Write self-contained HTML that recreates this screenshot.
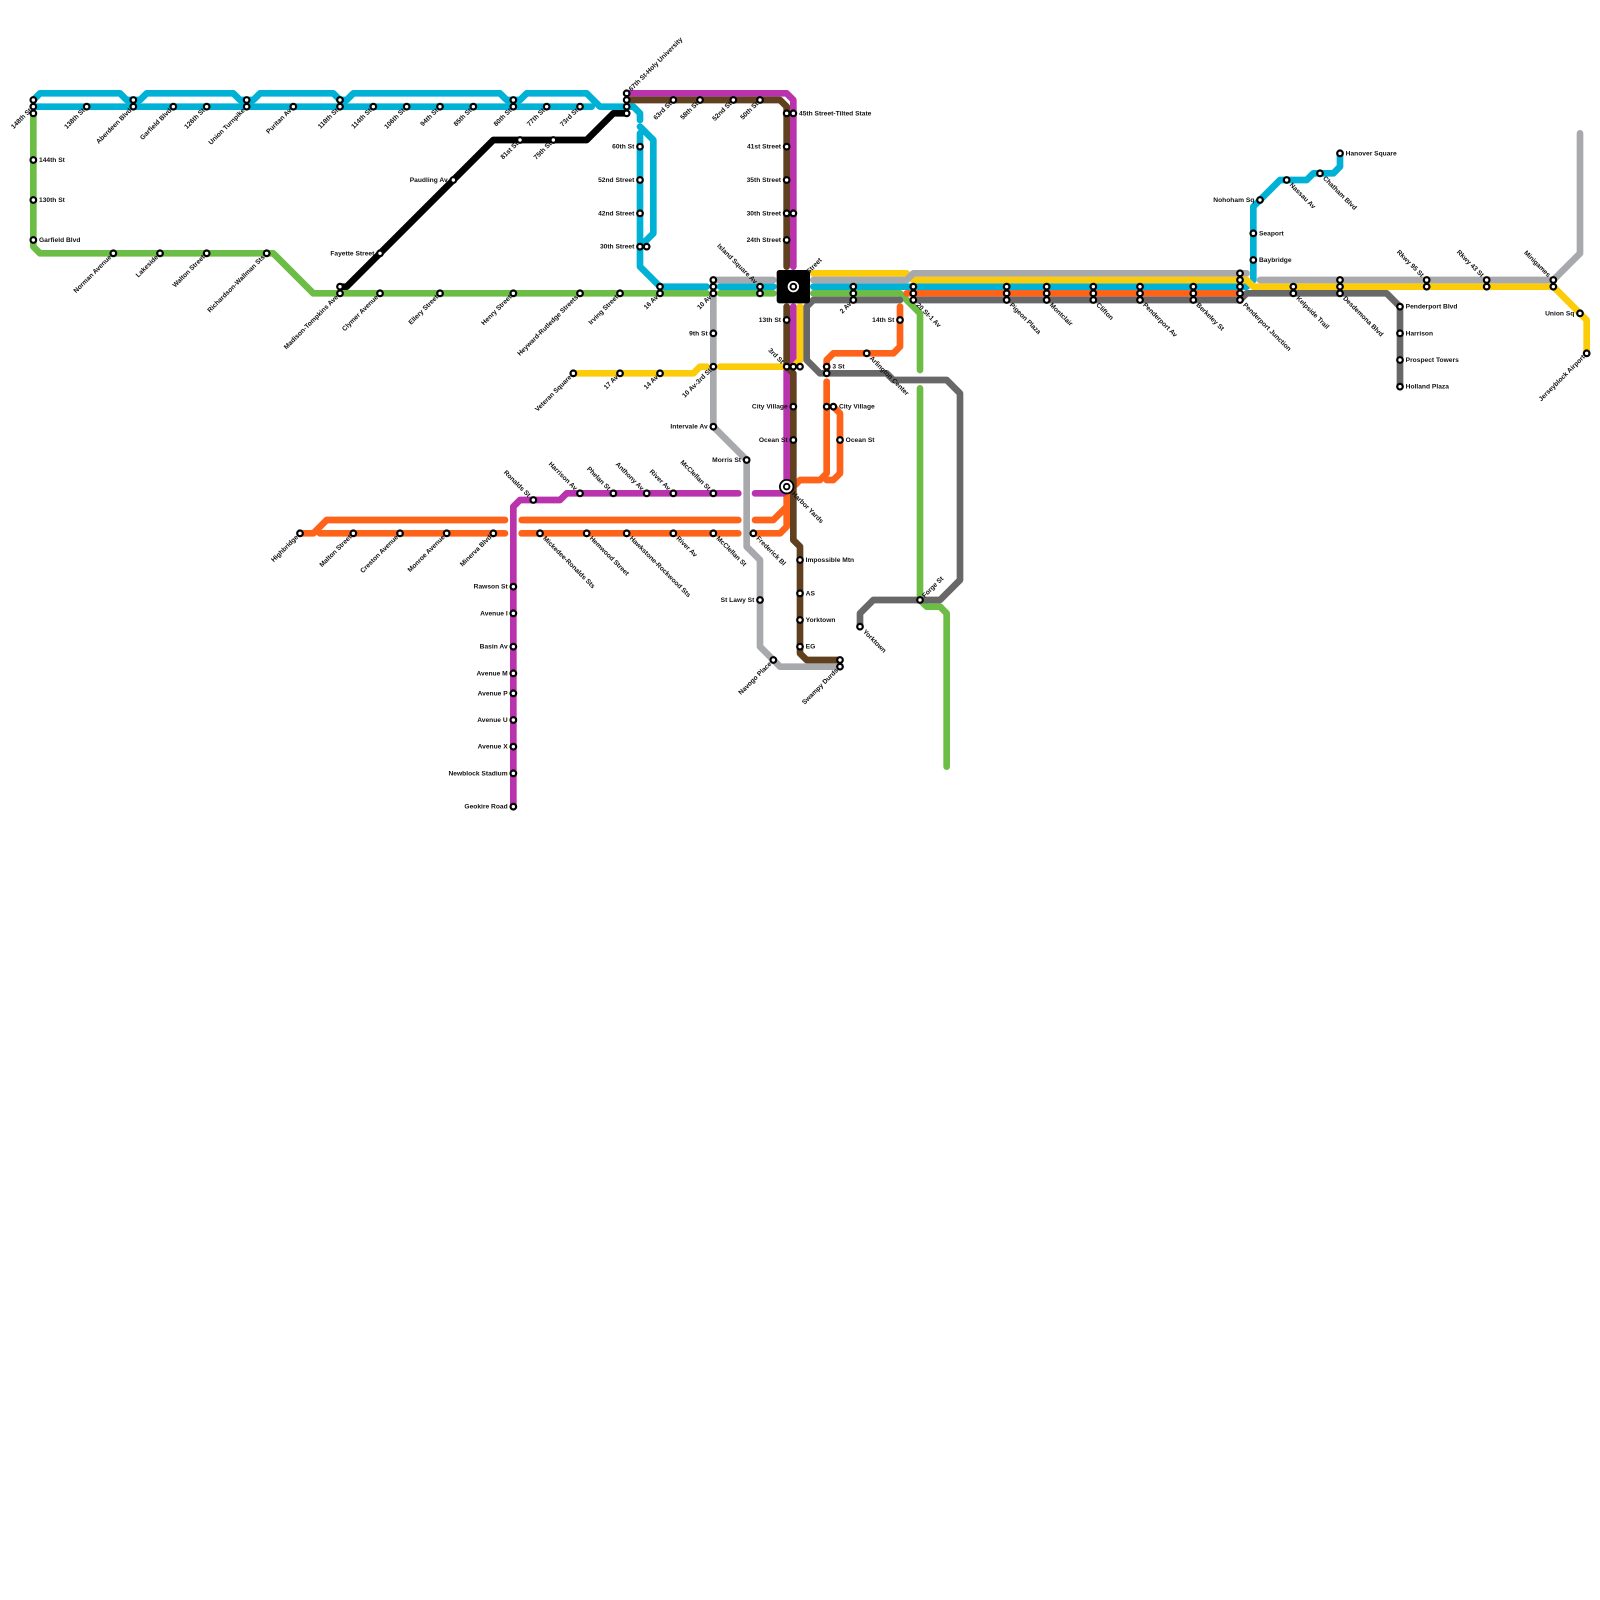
<!DOCTYPE html>
<html><head><meta charset="utf-8"><title>Metro map</title>
<style>
html,body{margin:0;padding:0;background:#fff}
svg{display:block}
.ln path{fill:none;stroke-width:1;stroke-linecap:round;stroke-linejoin:round}
text{font-family:"Liberation Sans",sans-serif;font-weight:bold;font-size:1px;fill:#111}
.st circle{fill:#fff;stroke:#000;stroke-width:.33}
</style></head><body>
<svg width="1600" height="1600" viewBox="0 0 240 240" xmlns="http://www.w3.org/2000/svg">
<rect width="240" height="240" fill="#fff"/>
<g class="ln">
<path stroke="#6cbd45" d="M5 17V37L6 38H41L47 44H106M108 44H116M122 44H135L137 46L138 47V55.5M138 58.25V90L139 91H141L142 92V115"/>
<path stroke="#00b1d6" d="M5 15L6 14H18L19 15H21L22 14H35L36 15H38L39 14H50L51 15H52L53 14H75L76 15H78L79 14H88L90 16H95L96 17V18M5 16H88.75M96 19L98 21V35L96.6 36.4M96 20V40L99 43H106M108 43H116M122 43H187L188 42V31L192 27H196L197 26H200L201 25V23"/>
<path stroke="#ff6319" d="M135 46V52L134 53H125L124 54V55.5M124 57.25V71L123 72H120L118.5 73.5M125 61L126 62V71L125 72H124M118 73V79L117 80H113.25M118 76L116 78H113.25M110.75 78H78.25M75.75 78H49L47 80H45M48 80H75.75M78.25 80H110.75M136 44H186"/>
<path stroke="#b933ad" d="M94 14H118L119 15V40M119 46V54L118 55V73L117.5 74H113.25M110.75 74H85L84 75H78L77 76V121"/>
<path stroke="#fccc0a" d="M122 41H136L137 42H187L188 43H233L237 47L238 48V53M120 46V54L119 55M86 56H104L105 55H106M108 55H118"/>
<path stroke="#a7a9ac" d="M107 42H116M122 42H136L137 41H187M189 42H233L237 38V20M107 42V64L112 69V82L114 84V97L117 100H126"/>
<path stroke="#686868" d="M122 45H135M137 45H186L187 44H208L210 46V58M122 45L121 46V54L123 56H133L134 57H142L144 59V87L141 90H131L129 92V94"/>
<path stroke="#60401f" d="M94 15H117L118 16V40M118 46V55L119 56V81L120 82V98L121 99H126"/>
<path stroke="#000" d="M94 17H92L88 21H74L52 43H51"/>
</g>
<rect x="116.5" y="40.5" width="5" height="5" rx=".4" fill="#000"/>
<text transform="translate(119 43)rotate(-45)" x="3" y=".3">Street</text>
<circle cx="119" cy="43" r=".85" fill="#fff"/><circle cx="119" cy="43" r=".58" fill="#000"/><circle cx="119" cy="43" r=".28" fill="#fff"/>
<g class="st">
<circle cx="5" cy="15" r=".42"/><circle cx="5" cy="16" r=".42"/><circle cx="5" cy="17" r=".42"/><circle cx="5" cy="24" r=".42"/><circle cx="5" cy="30" r=".42"/><circle cx="5" cy="36" r=".42"/>
<circle cx="13" cy="16" r=".42"/><circle cx="20" cy="15" r=".42"/><circle cx="20" cy="16" r=".42"/><circle cx="26" cy="16" r=".42"/><circle cx="31" cy="16" r=".42"/><circle cx="37" cy="15" r=".42"/><circle cx="37" cy="16" r=".42"/><circle cx="44" cy="16" r=".42"/><circle cx="51" cy="15" r=".42"/><circle cx="51" cy="16" r=".42"/><circle cx="56" cy="16" r=".42"/><circle cx="61" cy="16" r=".42"/><circle cx="66" cy="16" r=".42"/><circle cx="71" cy="16" r=".42"/><circle cx="77" cy="15" r=".42"/><circle cx="77" cy="16" r=".42"/><circle cx="82" cy="16" r=".42"/><circle cx="87" cy="16" r=".42"/>
<circle cx="94" cy="14" r=".42"/><circle cx="94" cy="15" r=".42"/><circle cx="94" cy="16" r=".42"/><circle cx="94" cy="17" r=".42"/>
<circle cx="101" cy="15" r=".42"/><circle cx="105" cy="15" r=".42"/><circle cx="110" cy="15" r=".42"/><circle cx="114" cy="15" r=".42"/>
<circle cx="118" cy="17" r=".42"/><circle cx="119" cy="17" r=".42"/><circle cx="118" cy="22" r=".42"/><circle cx="118" cy="27" r=".42"/><circle cx="118" cy="32" r=".42"/><circle cx="119" cy="32" r=".42"/><circle cx="118" cy="36" r=".42"/><circle cx="118" cy="48" r=".42"/><circle cx="118" cy="55" r=".42"/><circle cx="119" cy="55" r=".42"/><circle cx="120" cy="55" r=".42"/><circle cx="119" cy="61" r=".42"/><circle cx="119" cy="66" r=".42"/>
<circle cx="96" cy="22" r=".42"/><circle cx="96" cy="27" r=".42"/><circle cx="96" cy="32" r=".42"/><circle cx="96" cy="37" r=".42"/><circle cx="97" cy="37" r=".42"/>
<circle cx="78" cy="21" r=".42"/><circle cx="83" cy="21" r=".42"/><circle cx="68" cy="27" r=".42"/><circle cx="57" cy="38" r=".42"/><circle cx="51" cy="43" r=".42"/><circle cx="51" cy="44" r=".42"/>
<circle cx="17" cy="38" r=".42"/><circle cx="24" cy="38" r=".42"/><circle cx="31" cy="38" r=".42"/><circle cx="40" cy="38" r=".42"/><circle cx="57" cy="44" r=".42"/><circle cx="66" cy="44" r=".42"/><circle cx="77" cy="44" r=".42"/><circle cx="87" cy="44" r=".42"/><circle cx="93" cy="44" r=".42"/><circle cx="99" cy="43" r=".42"/><circle cx="99" cy="44" r=".42"/>
<circle cx="107" cy="42" r=".42"/><circle cx="107" cy="43" r=".42"/><circle cx="107" cy="44" r=".42"/><circle cx="114" cy="43" r=".42"/><circle cx="114" cy="44" r=".42"/><circle cx="107" cy="50" r=".42"/><circle cx="107" cy="55" r=".42"/><circle cx="107" cy="64" r=".42"/><circle cx="112" cy="69" r=".42"/>
<circle cx="86" cy="56" r=".42"/><circle cx="93" cy="56" r=".42"/><circle cx="99" cy="56" r=".42"/>
<circle cx="80" cy="75" r=".42"/><circle cx="87" cy="74" r=".42"/><circle cx="92" cy="74" r=".42"/><circle cx="97" cy="74" r=".42"/><circle cx="101" cy="74" r=".42"/><circle cx="107" cy="74" r=".42"/>
<circle cx="45" cy="80" r=".42"/><circle cx="53" cy="80" r=".42"/><circle cx="60" cy="80" r=".42"/><circle cx="67" cy="80" r=".42"/><circle cx="74" cy="80" r=".42"/><circle cx="81" cy="80" r=".42"/><circle cx="88" cy="80" r=".42"/><circle cx="94" cy="80" r=".42"/><circle cx="101" cy="80" r=".42"/><circle cx="107" cy="80" r=".42"/><circle cx="113" cy="80" r=".42"/>
<circle cx="77" cy="88" r=".42"/><circle cx="77" cy="92" r=".42"/><circle cx="77" cy="97" r=".42"/><circle cx="77" cy="101" r=".42"/><circle cx="77" cy="104" r=".42"/><circle cx="77" cy="108" r=".42"/><circle cx="77" cy="112" r=".42"/><circle cx="77" cy="116" r=".42"/><circle cx="77" cy="121" r=".42"/>
<circle cx="114" cy="90" r=".42"/><circle cx="116" cy="99" r=".42"/><circle cx="126" cy="99" r=".42"/><circle cx="126" cy="100" r=".42"/><circle cx="120" cy="84" r=".42"/><circle cx="120" cy="89" r=".42"/><circle cx="120" cy="93" r=".42"/><circle cx="120" cy="97" r=".42"/>
<circle cx="124" cy="55" r=".42"/><circle cx="124" cy="56" r=".42"/><circle cx="124" cy="61" r=".42"/><circle cx="125" cy="61" r=".42"/><circle cx="126" cy="66" r=".42"/><circle cx="130" cy="53" r=".42"/><circle cx="135" cy="48" r=".42"/><circle cx="129" cy="94" r=".42"/><circle cx="138" cy="90" r=".42"/>
<circle cx="128" cy="43" r=".42"/><circle cx="128" cy="44" r=".42"/><circle cx="128" cy="45" r=".42"/><circle cx="137" cy="43" r=".42"/><circle cx="137" cy="44" r=".42"/><circle cx="137" cy="45" r=".42"/><circle cx="151" cy="43" r=".42"/><circle cx="151" cy="44" r=".42"/><circle cx="151" cy="45" r=".42"/><circle cx="157" cy="43" r=".42"/><circle cx="157" cy="44" r=".42"/><circle cx="157" cy="45" r=".42"/><circle cx="164" cy="43" r=".42"/><circle cx="164" cy="44" r=".42"/><circle cx="164" cy="45" r=".42"/><circle cx="171" cy="43" r=".42"/><circle cx="171" cy="44" r=".42"/><circle cx="171" cy="45" r=".42"/><circle cx="179" cy="43" r=".42"/><circle cx="179" cy="44" r=".42"/><circle cx="179" cy="45" r=".42"/>
<circle cx="186" cy="41" r=".42"/><circle cx="186" cy="42" r=".42"/><circle cx="186" cy="43" r=".42"/><circle cx="186" cy="44" r=".42"/><circle cx="186" cy="45" r=".42"/>
<circle cx="194" cy="43" r=".42"/><circle cx="194" cy="44" r=".42"/><circle cx="201" cy="42" r=".42"/><circle cx="201" cy="43" r=".42"/><circle cx="201" cy="44" r=".42"/><circle cx="214" cy="42" r=".42"/><circle cx="214" cy="43" r=".42"/><circle cx="223" cy="42" r=".42"/><circle cx="223" cy="43" r=".42"/><circle cx="233" cy="42" r=".42"/><circle cx="233" cy="43" r=".42"/><circle cx="237" cy="47" r=".42"/><circle cx="238" cy="53" r=".42"/>
<circle cx="210" cy="46" r=".42"/><circle cx="210" cy="50" r=".42"/><circle cx="210" cy="54" r=".42"/><circle cx="210" cy="58" r=".42"/>
<circle cx="188" cy="35" r=".42"/><circle cx="188" cy="39" r=".42"/><circle cx="189" cy="30" r=".42"/><circle cx="193" cy="27" r=".42"/><circle cx="198" cy="26" r=".42"/><circle cx="201" cy="23" r=".42"/>
</g>
<circle cx="118" cy="73" r="1.15" fill="#000"/><circle cx="118" cy="73" r=".88" fill="#fff"/><circle cx="118" cy="73" r=".56" fill="#000"/><circle cx="118" cy="73" r=".28" fill="#fff"/>
<g text-anchor="end">
<text x="-.85" y=".3" transform="translate(96 22)">60th St</text>
<text x="-.85" y=".3" transform="translate(96 27)">52nd Street</text>
<text x="-.85" y=".3" transform="translate(96 32)">42nd Street</text>
<text x="-.85" y=".3" transform="translate(96 37)">30th Street</text>
<text x="-.85" y=".3" transform="translate(68 27)">Paudling Av</text>
<text x="-.85" y=".3" transform="translate(57 38)">Fayette Street</text>
<text x="-.85" y=".3" transform="translate(118 22)">41st Street</text>
<text x="-.85" y=".3" transform="translate(118 27)">35th Street</text>
<text x="-.85" y=".3" transform="translate(118 32)">30th Street</text>
<text x="-.85" y=".3" transform="translate(118 36)">24th Street</text>
<text x="-.85" y=".3" transform="translate(118 48)">13th St</text>
<text x="-.85" y=".3" transform="translate(107 50)">9th St</text>
<text x="-.85" y=".3" transform="translate(107 64)">Intervale Av</text>
<text x="-.85" y=".3" transform="translate(112 69)">Morris St</text>
<text x="-.85" y=".3" transform="translate(119 61)">City Village</text>
<text x="-.85" y=".3" transform="translate(119 66)">Ocean St</text>
<text x="-.85" y=".3" transform="translate(114 90)">St Lawy St</text>
<text x="-.85" y=".3" transform="translate(135 48)">14th St</text>
<text x="-.85" y=".3" transform="translate(189 30)">Nohoham Sq</text>
<text x="-.85" y=".3" transform="translate(237 47)">Union Sq</text>
<text x="-.85" y=".3" transform="translate(77 88)">Rawson St</text>
<text x="-.85" y=".3" transform="translate(77 92)">Avenue I</text>
<text x="-.85" y=".3" transform="translate(77 97)">Basin Av</text>
<text x="-.85" y=".3" transform="translate(77 101)">Avenue M</text>
<text x="-.85" y=".3" transform="translate(77 104)">Avenue P</text>
<text x="-.85" y=".3" transform="translate(77 108)">Avenue U</text>
<text x="-.85" y=".3" transform="translate(77 112)">Avenue X</text>
<text x="-.85" y=".3" transform="translate(77 116)">Newblock Stadium</text>
<text x="-.85" y=".3" transform="translate(77 121)">Geokire Road</text>
<text x="-.6" y=".3" transform="translate(5 16)rotate(-45)">148th St</text>
<text x="-.6" y=".3" transform="translate(13 16)rotate(-45)">138th St</text>
<text x="-.6" y=".3" transform="translate(20 16)rotate(-45)">Aberdeen Blvd</text>
<text x="-.6" y=".3" transform="translate(26 16)rotate(-45)">Garfield Blvd</text>
<text x="-.6" y=".3" transform="translate(31 16)rotate(-45)">126th St</text>
<text x="-.6" y=".3" transform="translate(37 16)rotate(-45)">Union Turnpike</text>
<text x="-.6" y=".3" transform="translate(44 16)rotate(-45)">Puritan Av</text>
<text x="-.6" y=".3" transform="translate(51 16)rotate(-45)">118th St</text>
<text x="-.6" y=".3" transform="translate(56 16)rotate(-45)">114th St</text>
<text x="-.6" y=".3" transform="translate(61 16)rotate(-45)">106th St</text>
<text x="-.6" y=".3" transform="translate(66 16)rotate(-45)">94th St</text>
<text x="-.6" y=".3" transform="translate(71 16)rotate(-45)">85th St</text>
<text x="-.6" y=".3" transform="translate(77 16)rotate(-45)">80th St</text>
<text x="-.6" y=".3" transform="translate(82 16)rotate(-45)">77th St</text>
<text x="-.6" y=".3" transform="translate(87 16)rotate(-45)">73rd St</text>
<text x="-.6" y=".3" transform="translate(78 21)rotate(-45)">81st St</text>
<text x="-.6" y=".3" transform="translate(83 21)rotate(-45)">75th St</text>
<text x="-.6" y=".3" transform="translate(101 15)rotate(-45)">63rd St</text>
<text x="-.6" y=".3" transform="translate(105 15)rotate(-45)">58th St</text>
<text x="-.6" y=".3" transform="translate(110 15)rotate(-45)">52nd St</text>
<text x="-.6" y=".3" transform="translate(114 15)rotate(-45)">50th St</text>
<text x="-.6" y=".3" transform="translate(107 44)rotate(-45)">10 Av</text>
<text x="-.6" y=".3" transform="translate(99 44)rotate(-45)">16 Av</text>
<text x="-.6" y=".3" transform="translate(128 45)rotate(-45)">2 Av</text>
<text x="-.6" y=".3" transform="translate(17 38)rotate(-45)">Norman Avenue</text>
<text x="-.6" y=".3" transform="translate(24 38)rotate(-45)">Lakeside</text>
<text x="-.6" y=".3" transform="translate(31 38)rotate(-45)">Walton Street</text>
<text x="-.6" y=".3" transform="translate(40 38)rotate(-45)">Richardson-Wallman Sts</text>
<text x="-.6" y=".3" transform="translate(51 44)rotate(-45)">Madison-Tompkins Ave</text>
<text x="-.6" y=".3" transform="translate(57 44)rotate(-45)">Clymer Avenue</text>
<text x="-.6" y=".3" transform="translate(66 44)rotate(-45)">Ellery Street</text>
<text x="-.6" y=".3" transform="translate(77 44)rotate(-45)">Henry Street</text>
<text x="-.6" y=".3" transform="translate(87 44)rotate(-45)">Heyward-Rutledge Streets</text>
<text x="-.6" y=".3" transform="translate(93 44)rotate(-45)">Irving Street</text>
<text x="-.6" y=".3" transform="translate(86 56)rotate(-45)">Veteran Square</text>
<text x="-.6" y=".3" transform="translate(93 56)rotate(-45)">17 Av</text>
<text x="-.6" y=".3" transform="translate(99 56)rotate(-45)">14 Av</text>
<text x="-.6" y=".3" transform="translate(107 55)rotate(-45)">10 Av-3rd St</text>
<text x="-.6" y=".3" transform="translate(45 80)rotate(-45)">Highbridge</text>
<text x="-.6" y=".3" transform="translate(53 80)rotate(-45)">Malton Street</text>
<text x="-.6" y=".3" transform="translate(60 80)rotate(-45)">Creston Avenue</text>
<text x="-.6" y=".3" transform="translate(67 80)rotate(-45)">Monroe Avenue</text>
<text x="-.6" y=".3" transform="translate(74 80)rotate(-45)">Minerva Blvd</text>
<text x="-.6" y=".3" transform="translate(116 99)rotate(-45)">Navogo Place</text>
<text x="-.6" y=".3" transform="translate(126 100)rotate(-45)">Swampy Durds</text>
<text x="-.6" y=".3" transform="translate(238 53)rotate(-45)">Jerseyblock Airport</text>
<text x="-.85" y=".3" transform="translate(114 43)rotate(45)">Island Square Av</text>
<text x="-.85" y=".3" transform="translate(118 55)rotate(45)">3rd St</text>
<text x="-.85" y=".3" transform="translate(80 75)rotate(45)">Ronalds St</text>
<text x="-.85" y=".3" transform="translate(87 74)rotate(45)">Harrison Av</text>
<text x="-.85" y=".3" transform="translate(92 74)rotate(45)">Phelan St</text>
<text x="-.85" y=".3" transform="translate(97 74)rotate(45)">Anthony Av</text>
<text x="-.85" y=".3" transform="translate(101 74)rotate(45)">River Av</text>
<text x="-.85" y=".3" transform="translate(107 74)rotate(45)">McClellan St</text>
<text x="-.85" y=".3" transform="translate(214 42)rotate(45)">Rkwy 95 St</text>
<text x="-.85" y=".3" transform="translate(223 42)rotate(45)">Rkwy 43 St</text>
<text x="-.85" y=".3" transform="translate(233 42)rotate(45)">Minigames</text>
</g>
<g>
<text x=".85" y=".3" transform="translate(5 24)">144th St</text>
<text x=".85" y=".3" transform="translate(5 30)">130th St</text>
<text x=".85" y=".3" transform="translate(5 36)">Garfield Blvd</text>
<text x=".85" y=".3" transform="translate(119 17)">45th Street-Tilted State</text>
<text x=".85" y=".3" transform="translate(124 55)">3 St</text>
<text x=".85" y=".3" transform="translate(125 61)">City Village</text>
<text x=".85" y=".3" transform="translate(126 66)">Ocean St</text>
<text x=".85" y=".3" transform="translate(120 84)">Impossible Mtn</text>
<text x=".85" y=".3" transform="translate(120 89)">AS</text>
<text x=".85" y=".3" transform="translate(120 93)">Yorktown</text>
<text x=".85" y=".3" transform="translate(120 97)">EG</text>
<text x=".85" y=".3" transform="translate(188 35)">Seaport</text>
<text x=".85" y=".3" transform="translate(188 39)">Baybridge</text>
<text x=".85" y=".3" transform="translate(201 23)">Hanover Square</text>
<text x=".85" y=".3" transform="translate(210 46)">Penderport Blvd</text>
<text x=".85" y=".3" transform="translate(210 50)">Harrison</text>
<text x=".85" y=".3" transform="translate(210 54)">Prospect Towers</text>
<text x=".85" y=".3" transform="translate(210 58)">Holland Plaza</text>
<text x=".7" y=".3" transform="translate(94 14)rotate(-45)">67th St-Holy University</text>
<text x=".7" y=".3" transform="translate(138 90)rotate(-45)">Forge St</text>
<text x=".85" y=".3" transform="translate(130 53)rotate(45)">Arlington Center</text>
<text x="1.3" y=".3" transform="translate(118 73)rotate(45)">Harbor Yards</text>
<text x=".85" y=".3" transform="translate(81 80)rotate(45)">Mickedee-Ronalds Sts</text>
<text x=".85" y=".3" transform="translate(88 80)rotate(45)">Hemwood Street</text>
<text x=".85" y=".3" transform="translate(94 80)rotate(45)">Hawkstone-Rockwood Sts</text>
<text x=".85" y=".3" transform="translate(101 80)rotate(45)">River Av</text>
<text x=".85" y=".3" transform="translate(107 80)rotate(45)">McClellan St</text>
<text x=".85" y=".3" transform="translate(113 80)rotate(45)">Frederick Bl</text>
<text x=".85" y=".3" transform="translate(129 94)rotate(45)">Yorktown</text>
<text x=".85" y=".3" transform="translate(137 45)rotate(45)">20 St-1 Av</text>
<text x=".85" y=".3" transform="translate(151 45)rotate(45)">Pigeon Plaza</text>
<text x=".85" y=".3" transform="translate(157 45)rotate(45)">Montclair</text>
<text x=".85" y=".3" transform="translate(164 45)rotate(45)">Clifton</text>
<text x=".85" y=".3" transform="translate(171 45)rotate(45)">Penderport Av</text>
<text x=".85" y=".3" transform="translate(179 45)rotate(45)">Berkeley St</text>
<text x=".85" y=".3" transform="translate(186 45)rotate(45)">Penderport Junction</text>
<text x=".85" y=".3" transform="translate(194 44)rotate(45)">Kelpside Trail</text>
<text x=".85" y=".3" transform="translate(201 44)rotate(45)">Desdemona Blvd</text>
<text x=".85" y=".3" transform="translate(193 27)rotate(45)">Nassau Av</text>
<text x=".85" y=".3" transform="translate(198 26)rotate(45)">Chatham Blvd</text>
</g>
</svg>
</body></html>
